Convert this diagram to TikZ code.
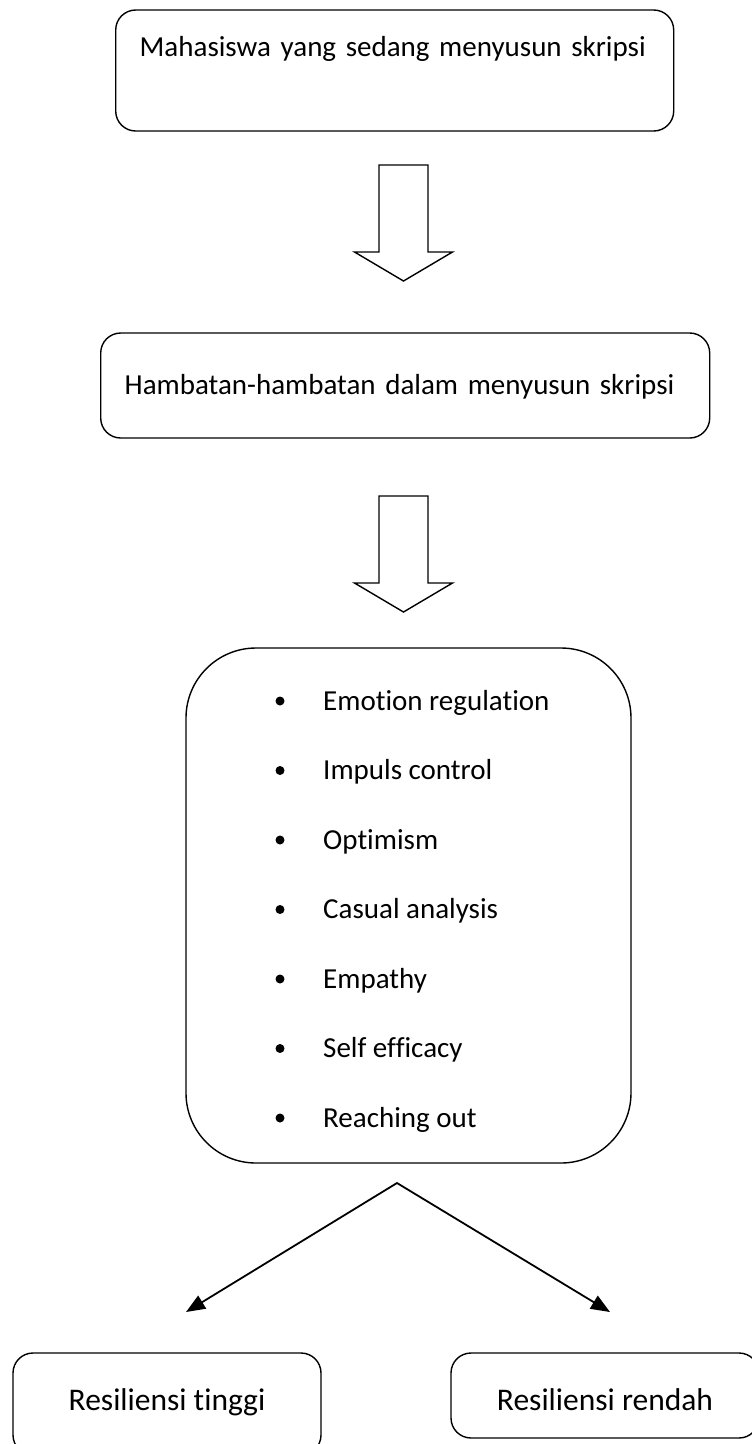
\documentclass[tikz,border=0pt]{standalone}
\usepackage{fontspec}
\setmainfont{Carlito}[Ligatures=CommonOff]
\usetikzlibrary{arrows.meta}

\tikzset{
  box/.style={draw,rounded corners=20pt,line width=1.4pt,inner xsep=24pt,inner ysep=0pt,align=left},
  endbox/.style={draw,rounded corners=20pt,line width=1.4pt,inner sep=0pt,align=center,
    font=\fontsize{31.5}{38}\selectfont},
  dot/.style={circle,fill,inner sep=0pt,minimum size=9pt},
  item/.style={anchor=base west,inner sep=0pt},
  arrowline/.style={line width=1.4pt,line join=miter},
  downarrow/.pic={\draw[arrowline] (-24.5,0) -- (24.5,0) -- (24.5,87) -- (49,87) -- (0,116)
    -- (-49,87) -- (-24.5,87) -- cycle;}
}

\begin{document}
\begin{tikzpicture}[x=1pt,y=-1pt,font=\fontsize{29}{35}\selectfont,>={Triangle[length=19pt,width=15pt]}]
  \useasboundingbox (0,0) rectangle (752,1444);
  % top boxes
  \node[box,anchor=base west,text width=510pt,text height=46pt,text depth=75pt] (mhs) at (115,56)
       {Mahasiswa yang sedang menyusun skripsi};
  \node[box,anchor=base west,text width=561pt,text height=61pt,text depth=44pt] (hmb) at (100,394)
       {Hambatan-hambatan dalam menyusun skripsi};
  % block arrows
  \coordinate (p1) at (403.5,165);
  \coordinate (p2) at (403.5,496);
  \pic at (p1) {downarrow};
  \pic at (p2) {downarrow};
  % aspects
  \node[draw,line width=1.4pt,rounded corners=70pt,minimum width=445pt,minimum height=515pt]
       (aspek) at (408.5,905.5) {};
  \foreach \t [count=\i] in {Emotion regulation,Impuls control,Optimism,Casual analysis,
                             Empathy,Self efficacy,Reaching out} {
    \pgfmathsetmacro\yy{701+69.5*(\i-1)}
    \node[dot] (d\i) at (280,\yy) {};
    \node[item] (f\i) at (323,\yy+9) {\t};
  }
  % split
  \coordinate (apex) at (397,1183);
  \coordinate (tipL) at (186,1312);
  \coordinate (tipR) at (610,1312);
  \draw[<->,line width=1.8pt,line join=miter] (tipL) -- (apex) -- (tipR);
  % results
  \node[endbox,anchor=base,minimum width=308pt,text height=57pt,text depth=45pt] (tinggi) at (167,1410)
       {Resiliensi tinggi};
  \node[endbox,anchor=base,minimum width=308pt,text height=57pt,text depth=28pt] (rendah) at (605,1410)
       {Resiliensi rendah};
\end{tikzpicture}
\end{document}
